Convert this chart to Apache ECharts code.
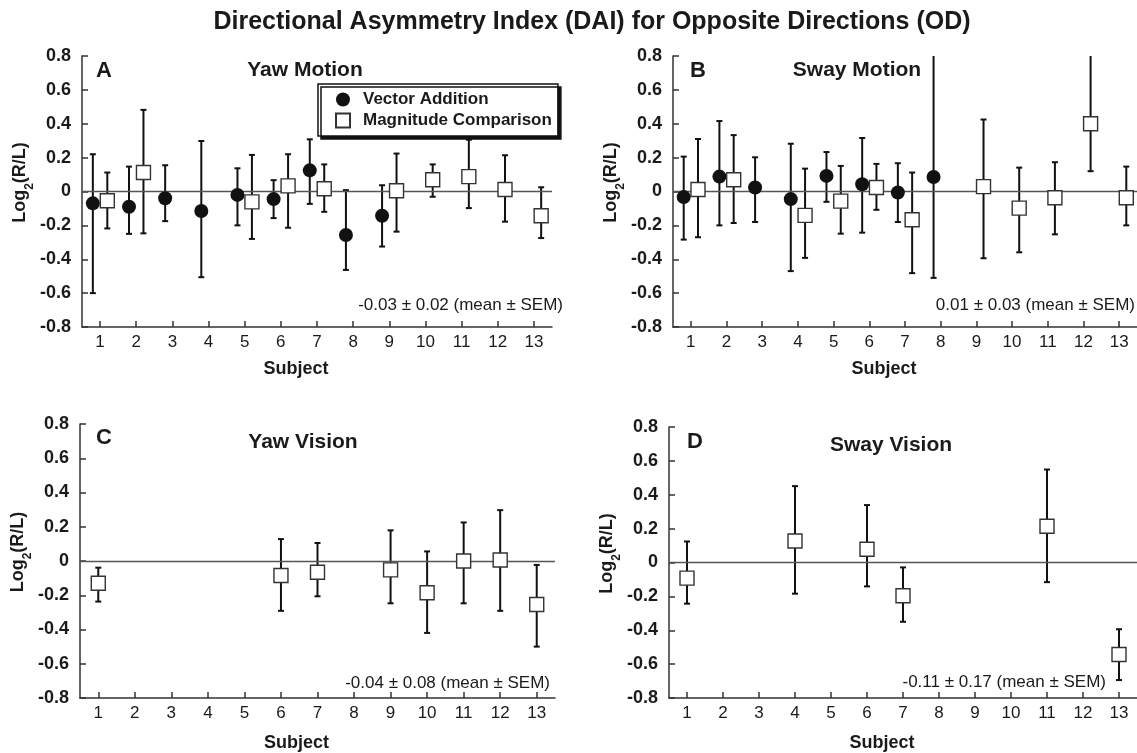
<!DOCTYPE html>
<html>
<head>
<meta charset="utf-8">
<script src="https://cdn.jsdelivr.net/npm/echarts@6/dist/echarts.min.js"></script>
<style>
  html, body { margin: 0; padding: 0; background: #fff; }
  #chart { width: 1137px; height: 753px; }
</style>
</head>
<body>
<div id="chart"></div>
<script>
// ---------------- DATA ----------------
const subjects = [1, 2, 3, 4, 5, 6, 7, 8, 9, 10, 11, 12, 13];
const seriesNames = ['Vector Addition', 'Magnitude Comparison'];
const chartTitle = 'Directional Asymmetry Index (DAI) for Opposite Directions (OD)';
const panelLetters = ['A', 'B', 'C', 'D'];
const panelTitles = ['Yaw Motion', 'Sway Motion', 'Yaw Vision', 'Sway Vision'];
const panelStats = ['-0.03 \u00b1 0.02 (mean \u00b1 SEM)', '0.01 \u00b1 0.03 (mean \u00b1 SEM)',
                    '-0.04 \u00b1 0.08 (mean \u00b1 SEM)', '-0.11 \u00b1 0.17 (mean \u00b1 SEM)'];

// Panel A: Yaw Motion
const A_VA_mean = [-0.07, -0.09, -0.04, -0.115, -0.02, -0.045, 0.125, -0.257, -0.143, null, null, null, null];
const A_VA_hi   = [0.22, 0.147, 0.155, 0.298, 0.137, 0.067, 0.308, 0.008, 0.037, null, null, null, null];
const A_VA_lo   = [-0.60, -0.25, -0.175, -0.506, -0.20, -0.157, -0.073, -0.463, -0.325, null, null, null, null];
const A_MC_mean = [-0.055, 0.112, null, null, -0.061, 0.033, 0.016, null, 0.004, 0.069, 0.088, 0.012, -0.143];
const A_MC_hi   = [0.112, 0.482, null, null, 0.216, 0.22, 0.16, null, 0.224, 0.16, 0.306, 0.214, 0.025];
const A_MC_lo   = [-0.218, -0.247, null, null, -0.28, -0.214, -0.12, null, -0.237, -0.031, -0.098, -0.178, -0.275];

// Panel B: Sway Motion
const B_VA_mean = [-0.033, 0.088, 0.024, -0.045, 0.092, 0.043, -0.006, 0.086, null, null, null, null, null];
const B_VA_hi   = [0.206, 0.416, 0.202, 0.282, 0.233, 0.316, 0.167, 0.95, null, null, null, null, null];
const B_VA_lo   = [-0.284, -0.2, -0.18, -0.47, -0.061, -0.243, -0.18, -0.51, null, null, null, null, null];
const B_MC_mean = [0.012, 0.069, null, -0.141, -0.057, 0.024, -0.167, null, 0.029, -0.098, -0.037, 0.40, -0.037];
const B_MC_hi   = [0.31, 0.333, null, 0.135, 0.151, 0.163, 0.112, null, 0.425, 0.141, 0.173, 0.95, 0.147];
const B_MC_lo   = [-0.27, -0.186, null, -0.392, -0.249, -0.108, -0.482, null, -0.394, -0.359, -0.253, 0.12, -0.2];

// Panel C: Yaw Vision
const C_MC_mean = [-0.13, null, null, null, null, -0.085, -0.066, null, -0.052, -0.185, 0.0, 0.006, -0.254];
const C_MC_hi   = [-0.039, null, null, null, null, 0.128, 0.105, null, 0.179, 0.056, 0.225, 0.297, -0.023];
const C_MC_lo   = [-0.237, null, null, null, null, -0.291, -0.206, null, -0.247, -0.42, -0.247, -0.291, -0.50];

// Panel D: Sway Vision
const D_MC_mean = [-0.092, null, null, 0.127, null, 0.078, -0.196, null, null, null, 0.214, null, -0.543];
const D_MC_hi   = [0.124, null, null, 0.451, null, 0.339, -0.029, null, null, null, 0.549, null, -0.394];
const D_MC_lo   = [-0.243, null, null, -0.184, null, -0.141, -0.35, null, null, null, -0.116, null, -0.694];

// ---------------- LAYOUT / STYLE ----------------
const FONT = '"Liberation Sans", Arial, Helvetica, sans-serif';
const grids = [
  { left: 82,  top: 56,  width: 470, height: 271 },
  { left: 673, top: 56,  width: 470, height: 271 },
  { left: 80,  top: 424, width: 475, height: 274 },
  { left: 669, top: 427, width: 471, height: 271 }
];
const xNameGaps = [33, 33, 36, 36];

const chart = echarts.init(document.getElementById('chart'), null, { renderer: 'canvas' });

const xAxes = grids.map((g, i) => ({
  type: 'value', gridIndex: i, min: 0.5, max: 13.5,
  name: 'Subject', nameLocation: 'middle', nameGap: xNameGaps[i],
  nameTextStyle: { fontFamily: FONT, fontWeight: 'bold', fontSize: 18, color: '#1a1a1a', padding: [0, 42, 0, 0] },
  axisLine: { onZero: false, lineStyle: { color: '#333', width: 1.5 } },
  axisTick: { inside: true, length: 6, customValues: subjects, lineStyle: { color: '#333', width: 1.5 } },
  axisLabel: { customValues: subjects, margin: 7, fontFamily: FONT, fontSize: 17, color: '#1a1a1a' },
  splitLine: { show: false }
}));

const yAxes = grids.map((g, i) => ({
  type: 'value', gridIndex: i, min: -0.8, max: 0.8, interval: 0.2,
  name: '{a|Log}{s|2}{a|(R/L)}', nameLocation: 'middle', nameGap: 49,
  nameTextStyle: {
    padding: [0, 0, 0, 18],
    rich: {
      a: { fontFamily: FONT, fontWeight: 'bold', fontSize: 18, color: '#1a1a1a', lineHeight: 22, verticalAlign: 'top' },
      s: { fontFamily: FONT, fontWeight: 'bold', fontSize: 12, color: '#1a1a1a', lineHeight: 12, padding: [13, 0, 0, 0], verticalAlign: 'top' }
    }
  },
  axisLine: { show: true, lineStyle: { color: '#333', width: 1.5 } },
  axisTick: { show: true, inside: true, length: 6, lineStyle: { color: '#333', width: 1.5 } },
  axisLabel: {
    margin: 11, fontFamily: FONT, fontWeight: 'bold', fontSize: 18, color: '#1a1a1a',
    formatter: v => (Math.abs(v) < 1e-9 ? '0' : v.toFixed(1))
  },
  splitLine: { show: false }
}));

function pts(mean, offset) {
  const out = [];
  subjects.forEach((s, k) => { if (mean[k] !== null) out.push([s + offset, mean[k]]); });
  return out;
}
function errPts(mean, lo, hi, offset) {
  const out = [];
  subjects.forEach((s, k) => { if (mean[k] !== null) out.push([s + offset, lo[k], hi[k]]); });
  return out;
}
function errSeries(gi, mean, lo, hi, offset) {
  return {
    type: 'custom', xAxisIndex: gi, yAxisIndex: gi, clip: true, silent: true, z: 2,
    data: errPts(mean, lo, hi, offset),
    encode: { x: 0, y: [1, 2] },
    renderItem: function (params, api) {
      const x = api.value(0), l = api.value(1), h = api.value(2);
      const pt = api.coord([x, h]), pb = api.coord([x, l]);
      const cw = 3;
      const st = { stroke: '#111', lineWidth: 2, fill: null };
      return {
        type: 'group',
        children: [
          { type: 'line', shape: { x1: pt[0], y1: pt[1], x2: pb[0], y2: pb[1] }, style: st },
          { type: 'line', shape: { x1: pt[0] - cw, y1: pt[1], x2: pt[0] + cw, y2: pt[1] }, style: st },
          { type: 'line', shape: { x1: pb[0] - cw, y1: pb[1], x2: pb[0] + cw, y2: pb[1] }, style: st }
        ]
      };
    }
  };
}
function vaSeries(gi, mean, offset) {
  return {
    name: seriesNames[0], type: 'scatter', xAxisIndex: gi, yAxisIndex: gi, z: 5,
    symbol: 'circle', symbolSize: 14, data: pts(mean, offset),
    itemStyle: { color: '#111', opacity: 1 }
  };
}
function mcSeries(gi, mean, offset) {
  return {
    name: seriesNames[1], type: 'scatter', xAxisIndex: gi, yAxisIndex: gi, z: 5,
    symbol: 'rect', symbolSize: 14, data: pts(mean, offset),
    itemStyle: { color: '#fff', borderColor: '#333', borderWidth: 1.4, opacity: 1 }
  };
}
function zeroLine(gi) {
  return {
    type: 'line', xAxisIndex: gi, yAxisIndex: gi, data: [], silent: true, z: 1,
    markLine: {
      silent: true, symbol: ['none', 'none'], label: { show: false },
      lineStyle: { color: '#555', width: 1.4, type: 'solid' },
      data: [{ yAxis: 0 }]
    }
  };
}

const series = [
  zeroLine(0), zeroLine(1), zeroLine(2), zeroLine(3),
  errSeries(0, A_VA_mean, A_VA_lo, A_VA_hi, -0.2),
  errSeries(0, A_MC_mean, A_MC_lo, A_MC_hi, 0.2),
  errSeries(1, B_VA_mean, B_VA_lo, B_VA_hi, -0.2),
  errSeries(1, B_MC_mean, B_MC_lo, B_MC_hi, 0.2),
  errSeries(2, C_MC_mean, C_MC_lo, C_MC_hi, 0),
  errSeries(3, D_MC_mean, D_MC_lo, D_MC_hi, 0),
  vaSeries(0, A_VA_mean, -0.2),
  mcSeries(0, A_MC_mean, 0.2),
  vaSeries(1, B_VA_mean, -0.2),
  mcSeries(1, B_MC_mean, 0.2),
  mcSeries(2, C_MC_mean, 0),
  mcSeries(3, D_MC_mean, 0)
];

// panel text positions
const letterPos = [[96, 71], [690, 71], [96, 438], [687, 442]];
const subPos = [[305, 70], [857, 70], [303, 442], [891, 445]];
const statPos = [[563, 305], [1135, 305], [550, 683], [1106, 682]];

const graphics = [
  { type: 'text', x: 592, y: 22, z: 10,
    style: { text: chartTitle, align: 'center', verticalAlign: 'middle', fill: '#1a1a1a', font: 'bold 25px ' + FONT } }
];
for (let i = 0; i < 4; i++) {
  graphics.push({ type: 'text', x: letterPos[i][0], y: letterPos[i][1], z: 10,
    style: { text: panelLetters[i], align: 'left', verticalAlign: 'middle', fill: '#1a1a1a', font: 'bold 22px ' + FONT } });
  graphics.push({ type: 'text', x: subPos[i][0], y: subPos[i][1], z: 10,
    style: { text: panelTitles[i], align: 'center', verticalAlign: 'middle', fill: '#1a1a1a', font: 'bold 21px ' + FONT } });
  graphics.push({ type: 'text', x: statPos[i][0], y: statPos[i][1], z: 10,
    style: { text: panelStats[i], align: 'right', verticalAlign: 'middle', fill: '#1a1a1a', font: '17px ' + FONT } });
}

chart.setOption({
  animation: false,
  backgroundColor: '#fff',
  grid: grids,
  xAxis: xAxes,
  yAxis: yAxes,
  legend: {
    left: 318, top: 84, orient: 'vertical',
    data: [{ name: seriesNames[0], icon: 'circle' }, { name: seriesNames[1], icon: 'rect' }],
    itemWidth: 14, itemHeight: 14, itemGap: 4,
    padding: [7, 6, 7, 17],
    backgroundColor: '#fff', borderColor: '#111', borderWidth: 1.5,
    shadowColor: '#111', shadowBlur: 0, shadowOffsetX: 3, shadowOffsetY: 3,
    textStyle: { fontFamily: FONT, fontWeight: 'bold', fontSize: 17, color: '#1a1a1a', padding: [0, 0, 0, 8] },
    selectedMode: false
  },
  graphic: graphics,
  series: series
});
</script>
</body>
</html>
